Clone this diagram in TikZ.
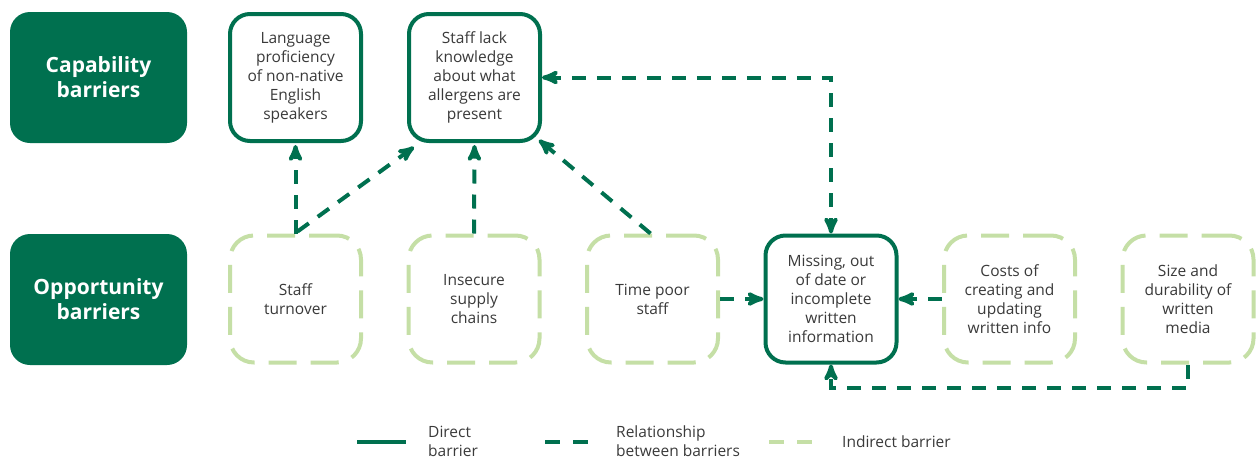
\documentclass[tikz,border=0pt]{standalone}
\usepackage{fontspec}
\setmainfont{Open Sans}
\usetikzlibrary{calc}
\usetikzlibrary{arrows}
\usepackage{xcolor}
\definecolor{darkgreen}{HTML}{00704F}
\definecolor{lightgreen}{HTML}{C5DFA6}
\definecolor{textgrey}{HTML}{3A3A3A}

\tikzset{
  header/.style={fill=darkgreen, rounded corners=20pt, minimum width=177pt, minimum height=131pt,
    text=white, font=\fontsize{21}{25}\selectfont\bfseries, align=center},
  direct/.style={draw=darkgreen, fill=white, line width=4pt, rounded corners=20pt,
    minimum width=131pt, minimum height=127pt, text=textgrey,
    font=\fontsize{15.5}{19}\selectfont, align=center},
  indirect/.style={direct, draw=lightgreen, dash pattern=on 28pt off 14pt, rounded corners=24pt},
  link/.style={darkgreen, line width=4pt, dash pattern=on 14pt off 11pt, >=stealth'},
  legend/.style={text=textgrey, font=\fontsize{15.5}{19}\selectfont, align=left, right, inner sep=0pt}
}

\begin{document}
\begin{tikzpicture}[x=1pt,y=-1pt]
\useasboundingbox (0,0) rectangle (1258,461);
% row headers
\node[header] (cap) at (98.5,77.5) {Capability\\barriers};
\node[header] (opp) at (98.5,299.5) {Opportunity\\barriers};
% capability barriers
\node[direct] (lang) at (295.5,77.5) {Language\\proficiency\\of non-native\\English\\speakers};
\node[direct] (staff) at (474.5,77.5) {Staff lack\\knowledge\\about what\\allergens are\\present};
% opportunity barriers
\node[indirect] (turn) at (295.5,299) {Staff\\turnover};
\node[indirect] (ins) at (474,299) {Insecure\\supply\\chains};
\node[indirect] (time) at (652.5,299) {Time poor\\staff};
\node[direct] (miss) at (831,299) {Missing, out\\of date or\\incomplete\\written\\information};
\node[indirect] (cost) at (1009.5,299) {Costs of\\creating and\\updating\\written info};
\node[indirect] (size) at (1188,299) {Size and\\durability of\\written\\media};
% relationships
\draw[link,->,shorten >=2pt] (turn.north) -- (lang.south);
\draw[link,->] ($(turn.north)+(2,-2)$) -- ($(staff.south west)+(7,4)$);
\draw[link,->,shorten >=2pt] (ins.north) -- (staff.south);
\draw[link,->] ($(time.north)+(-2,0)$) -- ($(staff.south east)+(-3,-3)$);
\draw[link,<->] (staff.east) -| (miss.north);
\draw[link,->] (time.east) -- (miss.west);
\draw[link,->] (cost.west) -- (miss.east);
\draw[link,->] (size.south) -- ++(0,23) -| (miss.south);
% legend
\draw[darkgreen,line width=4pt] (357,442) -- (406,442);
\node[legend] (ldirect) at (428,441) {Direct\\barrier};
\draw[darkgreen,line width=4pt,dash pattern=on 15pt off 13pt] (545,442) -- (588,442);
\node[legend] (lrel) at (616,441) {Relationship\\between barriers};
\draw[lightgreen,line width=4pt,dash pattern=on 15pt off 13pt] (769,442) -- (813,442);
\node[legend] (lind) at (842,442) {Indirect barrier};
\end{tikzpicture}
\end{document}
